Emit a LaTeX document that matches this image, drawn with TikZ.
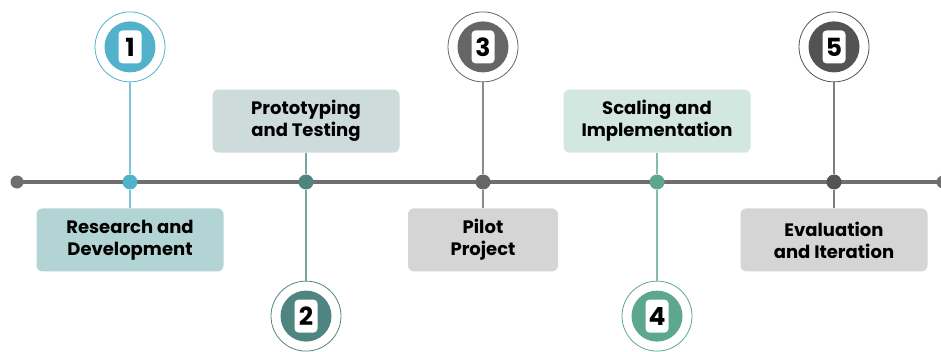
\documentclass[tikz,border=0pt]{standalone}
\usepackage{fontspec}
\setmainfont{Poppins}
\usepackage{xcolor}
\usetikzlibrary{positioning}
\definecolor{axisgray}{HTML}{6E6D70}
\definecolor{stepblue}{HTML}{52B1CB}
\definecolor{stepteal}{HTML}{4E8580}
\definecolor{stepgray}{HTML}{676567}
\definecolor{stepgreen}{HTML}{5DA78E}
\definecolor{stepdark}{HTML}{555255}
\definecolor{boxblue}{HTML}{B3D4D4}
\definecolor{boxteal}{HTML}{CDDCDA}
\definecolor{boxgray}{HTML}{D5D5D5}
\definecolor{boxgreen}{HTML}{D2E7DF}
\tikzset{
axisline/.style={
line width=3pt,
color=axisgray
},
enddot/.style={
circle,
fill=axisgray,
minimum size=13pt,
inner sep=0pt
},
stepdot/.style={
circle,
fill=#1,
minimum size=15pt,
inner sep=0pt
},
stepring/.style={
circle,
draw=#1,
line width=0.8pt,
minimum size=70pt,
inner sep=0pt
},
stepdisc/.style={
circle,
fill=#1,
minimum size=51pt,
inner sep=0pt
},
numtag/.style={
fill=white,
rounded corners=4pt,
minimum width=23pt,
minimum height=33pt,
inner sep=0pt,
font=\fontsize{25}{25}\selectfont\bfseries
},
stagebox/.style={
fill=#1,
rounded corners=6pt,
minimum width=187pt,
minimum height=63pt,
inner sep=0pt,
align=center,
font=\fontsize{18}{22}\selectfont\bfseries
},
steplink/.style={
line width=1.2pt,
color=#1!75
}
}

\begin{document}
\begin{tikzpicture}[x=1pt,y=1pt]
\useasboundingbox (0,0) rectangle (941,351);

% main axis
\coordinate (start) at (17,169);
\coordinate (stop) at (943,169);
\draw[axisline](start)--(stop);
\node[enddot] (e0) at (start) {};
\node[enddot] (e6) at (stop) {};

% dots on the axis
\node[stepdot=stepblue] (d1) at (130,169) {};
\node[stepdot=stepteal] (d2) at (306,169) {};
\node[stepdot=stepgray] (d3) at (483,169) {};
\node[stepdot=stepgreen] (d4) at (657,169) {};
\node[stepdot=stepdark] (d5) at (834,169) {};

% numbered rings
\node[stepring=stepblue,above=92pt of d1] (r1) {};
\node[stepring=stepteal,below=91pt of d2] (r2) {};
\node[stepring=stepgray,above=92pt of d3] (r3) {};
\node[stepring=stepgreen,below=91pt of d4] (r4) {};
\node[stepring=stepdark,above=92pt of d5] (r5) {};

\node[stepdisc=stepblue] at (r1.center) {};
\node[stepdisc=stepteal] at (r2.center) {};
\node[stepdisc=stepgray] at (r3.center) {};
\node[stepdisc=stepgreen] at (r4.center) {};
\node[stepdisc=stepdark] at (r5.center) {};

\node[numtag] (n1) at (r1.center) {1};
\node[numtag] (n2) at (r2.center) {2};
\node[numtag] (n3) at (r3.center) {3};
\node[numtag] (n4) at (r4.center) {4};
\node[numtag] (n5) at (r5.center) {5};

% stage labels
\node[stagebox=boxblue,below=18.5pt of d1] (b1) {Research and\\Development};
\node[stagebox=boxteal,above=21.5pt of d2] (b2) {Prototyping\\and Testing};
\node[stagebox=boxgray,below=18.5pt of d3,minimum width=150pt] (b3) {Pilot\\Project};
\node[stagebox=boxgreen,above=21.5pt of d4] (b4) {Scaling and\\Implementation};
\node[stagebox=boxgray,below=18.5pt of d5] (b5) {Evaluation\\and Iteration};

% connectors
\draw[steplink=stepblue](r1)--(d1);
\draw[steplink=stepblue](d1)--(b1);
\draw[steplink=stepteal](b2)--(d2);
\draw[steplink=stepteal](d2)--(r2);
\draw[steplink=stepgray](r3)--(d3);
\draw[steplink=stepgray](d3)--(b3);
\draw[steplink=stepgreen](b4)--(d4);
\draw[steplink=stepgreen](d4)--(r4);
\draw[steplink=stepdark](r5)--(d5);
\draw[steplink=stepdark](d5)--(b5);
\end{tikzpicture}
\end{document}
